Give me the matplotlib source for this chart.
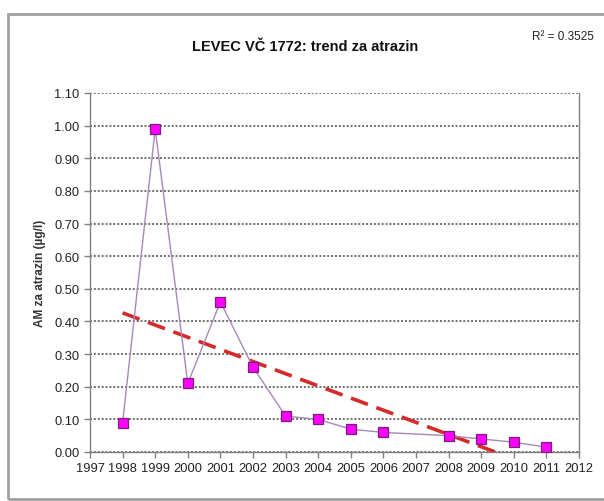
"""
    LEVEC VC 1772 - atrazin trend chart
"""

import numpy as np
import matplotlib
matplotlib.use("Agg")
import matplotlib.pyplot as plt
from matplotlib.patches import Rectangle

plt.rcParams['font.family'] = ['Liberation Sans', 'DejaVu Sans']

# measured annual means (no value for 2007)
years = [1998, 1999, 2000, 2001, 2002, 2003, 2004, 2005, 2006, 2008, 2009, 2010, 2011]
atrazin = [0.09, 0.99, 0.21, 0.46, 0.26, 0.11, 0.10, 0.07, 0.06, 0.05, 0.04, 0.03, 0.015]

x_ticks = list(range(1997, 2013))
y_ticks = [0.0, 0.1, 0.2, 0.3, 0.4, 0.5, 0.6, 0.7, 0.8, 0.9, 1.0, 1.1]
r2_text = 'R² = 0.3525'


def main() -> None:
    fig = plt.figure(figsize=(6.04, 5.02), dpi=100)

    # outer chart frame
    fig.patches.append(Rectangle((8 / 604, 2 / 502), 1.0, 485 / 502, transform=fig.transFigure,
                                 fill=False, edgecolor='#a0a0a0', linewidth=2.0))

    ax = fig.add_axes([90 / 604, 1 - 453 / 502, 489 / 604, 359 / 502])

    x = np.array(years, dtype=float)
    y = np.array(atrazin)

    # linear trend, clipped where it reaches zero
    k, n = np.polyfit(x, y, 1)
    x_end = -n / k
    tx = np.array([x[0], x_end])
    ax.plot(tx, k * tx + n, color='#d42a2a', linewidth=2.6, linestyle=(0, (5, 2.5)), zorder=3)

    ax.plot(x, y, color='#a888b8', linewidth=1.0, marker='s', markersize=7.5,
            markerfacecolor='#ff00ff', markeredgecolor='#7a1f7a', markeredgewidth=0.9, zorder=4)

    ax.set_xlim(1997, 2012)
    ax.set_ylim(0, 1.1)
    ax.set_xticks(x_ticks)
    ax.set_yticks(y_ticks)
    ax.set_yticklabels([f'{v:.2f}' for v in y_ticks])
    ax.tick_params(axis='both', labelsize=9.3, labelcolor='#222222', length=4,
                   direction='out', width=1.0, color='#808080')
    ax.tick_params(axis='x', pad=3)

    ax.yaxis.grid(True, color='#6e6e6e', linestyle=(0, (1, 1)), linewidth=1.4)
    ax.set_axisbelow(True)
    for side in ['left', 'bottom', 'right']:
        ax.spines[side].set_color('#808080')
        ax.spines[side].set_linewidth(1.0)
    ax.spines['top'].set_visible(False)

    ax.set_ylabel('AM za atrazin (µg/l)', fontsize=8.5, fontweight='bold', color='#333333')
    ax.yaxis.set_label_coords(-(90 - 46) / 489, 0.5)

    fig.text(305 / 604, 1 - 47 / 502, 'LEVEC VČ 1772: trend za atrazin', ha='center', va='center',
             fontsize=10.5, fontweight='bold', color='#111111')
    fig.text(563 / 604, 1 - 37 / 502, r2_text, ha='center', va='center',
             fontsize=8.5, color='#222222')

    fig.savefig('out.png', dpi=100)


if __name__ == "__main__":
    main()
